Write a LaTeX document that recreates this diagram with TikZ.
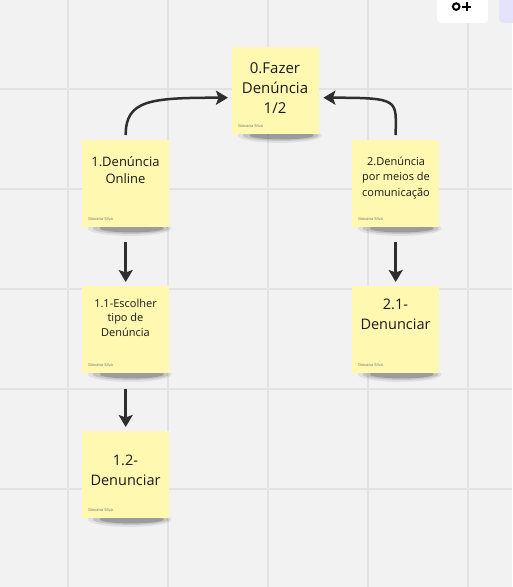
\documentclass[tikz,border=0pt]{standalone}
\usepackage{fontspec}
\setmainfont{Open Sans}
\usetikzlibrary{arrows.meta}
\definecolor{bgc}{HTML}{F2F2F2}
\definecolor{gridc}{HTML}{E2E2E2}
\definecolor{notec}{HTML}{FEF8B1}
\definecolor{inkc}{HTML}{1A1A1A}
\definecolor{arrc}{HTML}{2E2E2E}
\definecolor{authc}{HTML}{6E6E6E}
\definecolor{lavc}{HTML}{E4E3FB}
\pgfdeclarelayer{back}
\pgfdeclarelayer{shade}
\pgfsetlayers{back,shade,main}
\begin{document}
\begin{tikzpicture}[x=1pt,y=-1pt,
  note/.style={fill=notec, minimum width=87pt, minimum height=87pt, inner sep=0pt, anchor=north west},
  txt/.style={text=inkc, align=center, inner sep=0pt},
  auth/.style={text=authc, font=\fontsize{4}{5}\selectfont, anchor=west, inner sep=0pt},
  arr/.style={draw=arrc, line width=2.5pt, -{Stealth[length=12pt,width=14pt,inset=2.5pt]}},
  shd/.style={fill=black},
  icon/.style={draw=black, line width=2pt}
]
\useasboundingbox (0,0) rectangle (512,587);
\begin{pgfonlayer}{back}
  \fill[bgc] (0,0) rectangle (512,587);
  \foreach \gx in {68,168,268,368,468} \draw[gridc, line width=1.5pt] (\gx,0) -- (\gx,587);
  \foreach \gy in {89,189,289,389,489} \draw[gridc, line width=1.5pt] (0,\gy) -- (512,\gy);
\end{pgfonlayer}

% notes
\node[note] (n0) at (232,47) {};
\node[note] (n1) at (82,140) {};
\node[note] (n2) at (352,140) {};
\node[note] (n11) at (82,286) {};
\node[note] (n21) at (352,286) {};
\node[note] (n12) at (82,431) {};

% shadows
\begin{pgfonlayer}{shade}
\foreach \n in {n0,n1,n2,n11,n21,n12}{
  \fill[shd, opacity=0.07] ([xshift=4pt,yshift=-1pt]\n.south) ellipse [x radius=42pt, y radius=7.5pt];
  \fill[shd, opacity=0.12] ([xshift=5pt,yshift=-1pt]\n.south) ellipse [x radius=38pt, y radius=5.5pt];
  \fill[shd, opacity=0.20] ([xshift=6pt,yshift=-1pt]\n.south) ellipse [x radius=32pt, y radius=4pt];
}
\end{pgfonlayer}

% texts
\node[txt, font=\fontsize{15}{20}\selectfont] (t0) at (275,88) {0.Fazer\\Denúncia\\1/2};
\node[txt, font=\fontsize{13}{17}\selectfont] (t1) at (125.5,170.5) {1.Denúncia\\Online};
\node[txt, font=\fontsize{11}{15.5}\selectfont] (t2) at (396,178) {2.Denúncia\\por meios de\\comunicação};
\node[txt, font=\fontsize{11}{14.5}\selectfont] (t11) at (125.5,317.5) {1.1-Escolher\\tipo de\\Denúncia};
\node[txt, font=\fontsize{14.5}{20}\selectfont] (t21) at (395.5,314) {2.1-\\Denunciar};
\node[txt, font=\fontsize{14.5}{20}\selectfont] (t12) at (125.5,470.5) {1.2-\\Denunciar};

% authors
\foreach \n in {n0,n1,n2,n11,n21,n12}{
  \node[auth] (a\n) at ([xshift=6pt,yshift=8pt]\n.south west) {Giovana Silva};
}

% connectors
\coordinate (e0l) at ([yshift=-7pt]n0.west);
\coordinate (e0r) at ([yshift=-7pt]n0.east);
\draw[arr, shorten <=5pt, shorten >=4pt] (n1.north) .. controls +(0,-40) and +(-82,0) .. (e0l);
\draw[arr, shorten <=5pt, shorten >=4pt] (n2.north) .. controls +(0,-40) and +(82,0) .. (e0r);
\draw[arr, shorten <=15pt, shorten >=4pt] (n1.south) -- (n11.north);
\draw[arr, shorten <=15pt, shorten >=4pt] (n2.south) -- (n21.north);
\draw[arr, shorten <=16pt, shorten >=4pt] (n11.south) -- (n12.north);

% toolbar
\node[fill=white, rounded corners=4pt, minimum width=51pt, minimum height=30pt, inner sep=0pt, anchor=south west] (tb) at (437,23) {};
\node[fill=lavc, rounded corners=4pt, minimum width=20pt, minimum height=30pt, inner sep=0pt, anchor=south west] (tb2) at (499,23) {};
\coordinate (ic) at ([xshift=-6.5pt,yshift=-14pt]tb.north);
\draw[icon] (ic) circle [radius=3.3pt];
\draw[icon] ([xshift=6pt]ic) -- ([xshift=15pt]ic);
\draw[icon] ([xshift=10.5pt,yshift=4.5pt]ic) -- ([xshift=10.5pt,yshift=-4.5pt]ic);
\end{tikzpicture}
\end{document}
